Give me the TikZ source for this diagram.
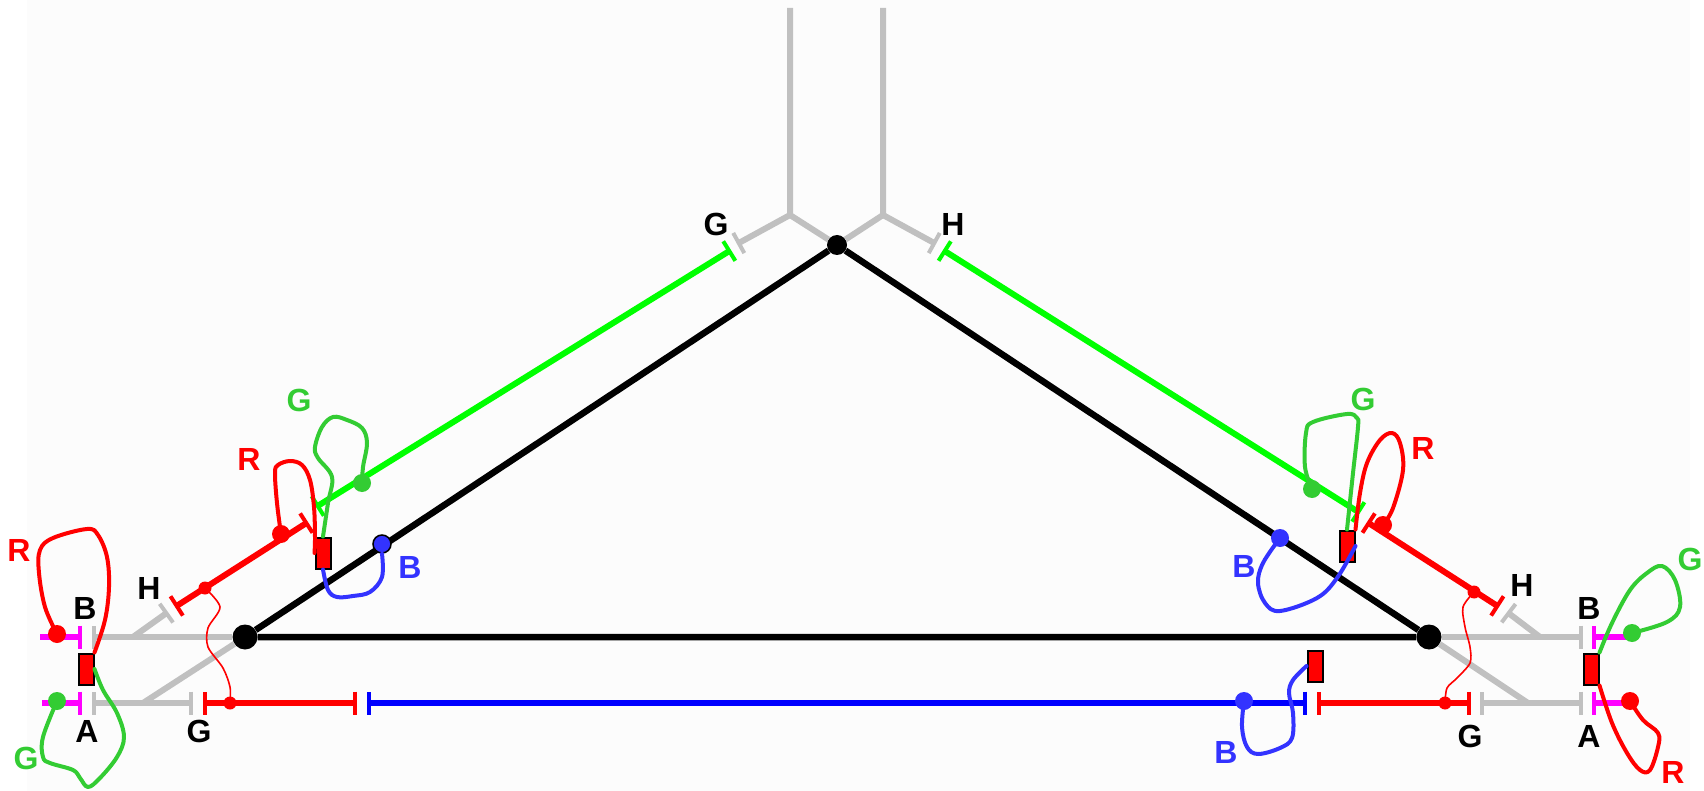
\documentclass[tikz,border=0pt]{standalone}
\usepackage{fontspec}
\setmainfont{Liberation Sans}
\usepackage{xcolor}
\usetikzlibrary{arrows.meta}
\definecolor{railgray}{HTML}{C0C0C0}
\definecolor{railmagenta}{HTML}{FF00FF}
\definecolor{railred}{HTML}{FF0000}
\definecolor{railgreen}{HTML}{00FF00}
\definecolor{railblue}{HTML}{0000FF}
\definecolor{loopgreen}{HTML}{33CC33}
\definecolor{loopblue}{HTML}{3333FF}
\definecolor{paper}{HTML}{FCFCFC}

\begin{document}
\begin{tikzpicture}[
  x=1pt, y=-1pt,
  font=\fontsize{32}{32}\selectfont\bfseries,
  rail/.style={line width=6pt, line cap=butt},
  teeA/.style={{Bar[width=23pt,line width=4pt]}-},
  teeB/.style={-{Bar[width=23pt,line width=4pt]}},
  teeAB/.style={{Bar[width=23pt,line width=4pt]}-{Bar[width=23pt,line width=4pt]}},
  vertex/.style={circle, fill=black, inner sep=0pt, minimum size=#1},
  dot/.style={circle, fill=#1, inner sep=0pt, minimum size=18pt},
  smalldot/.style={circle, fill=railred, inner sep=0pt, minimum size=13pt},
  relay/.style={draw=black, fill=railred, line width=2pt, inner sep=0pt, minimum width=15pt, minimum height=31pt},
  wire/.style={line width=4pt, line join=round, line cap=round},
  thinwire/.style={railred, line width=1.6pt, line join=round},
  lab/.style={inner sep=0pt}]
\useasboundingbox (0,0) rectangle (1704,791);
\fill[paper] (27,0) rectangle (1690,791);
% ---- vertices of the triangle
\node[vertex=25pt] (vL) at (245,637) {};
\node[vertex=20pt] (vT) at (837,245) {};
\node[vertex=25pt] (vR) at (1429,637) {};
% ---- end points of the rails
\coordinate (upL) at (790,8); \coordinate (upR) at (883,8);
\coordinate (forkL) at (790,215); \coordinate (forkR) at (883,215);
\coordinate (grayGt) at (737,244); \coordinate (grayHt) at (936,244);
\coordinate (grnGt) at (731,250); \coordinate (grnHt) at (943,250);
\coordinate (grnLe) at (316,507); \coordinate (grnRe) at (1360,513);
\coordinate (redLa) at (308,522); \coordinate (redLb) at (175,607);
\coordinate (redRa) at (1367,522); \coordinate (redRb) at (1499,607);
\coordinate (grayLh) at (168,612); \coordinate (grayRh) at (1507,612);
\coordinate (joinLb) at (133,637); \coordinate (joinLa) at (143,703);
\coordinate (joinRb) at (1540,637); \coordinate (joinRa) at (1528,703);
\coordinate (teeBLg) at (92,637); \coordinate (teeBLm) at (82,637); \coordinate (endBL) at (40,637);
\coordinate (teeALg) at (92,703); \coordinate (teeALm) at (82,703); \coordinate (endAL) at (42,703);
\coordinate (teeGLg) at (193,703); \coordinate (teeGLr) at (203,703);
\coordinate (teeMr) at (357,703); \coordinate (teeMb) at (367,703);
\coordinate (teeNb) at (1307,703); \coordinate (teeNr) at (1317,703);
\coordinate (teeGRr) at (1471,703); \coordinate (teeGRg) at (1480,703);
\coordinate (teeARg) at (1583,703); \coordinate (teeARm) at (1592,703); \coordinate (endAR) at (1630,703);
\coordinate (teeBRg) at (1583,637); \coordinate (teeBRm) at (1592,637); \coordinate (endBR) at (1632,637);
% ---- gray rails
\draw[rail, railgray] (upL) -- (forkL) -- (vT);
\draw[rail, railgray] (upR) -- (forkR) -- (vT);
\draw[rail, railgray, teeB] (forkL) -- (grayGt);
\draw[rail, railgray, teeB] (forkR) -- (grayHt);
\draw[rail, railgray, teeA] (teeBLg) -- (vL);
\draw[rail, railgray, teeAB] (teeALg) -- (teeGLg);
\draw[rail, railgray, teeA] (grayLh) -- (joinLb);
\draw[rail, railgray] (joinLa) -- (vL);
\draw[rail, railgray, teeB] (vR) -- (teeBRg);
\draw[rail, railgray, teeAB] (teeGRg) -- (teeARg);
\draw[rail, railgray, teeA] (grayRh) -- (joinRb);
\draw[rail, railgray] (joinRa) -- (vR);
% ---- coloured rails
\draw[rail, railgreen, teeAB] (grnGt) -- (grnLe);
\draw[rail, railgreen, teeAB] (grnHt) -- (grnRe);
\draw[rail, railred, teeAB] (redLa) -- (redLb);
\draw[rail, railred, teeAB] (redRa) -- (redRb);
\draw[rail, railmagenta, teeB] (endBL) -- (teeBLm);
\draw[rail, railmagenta, teeB] (endAL) -- (teeALm);
\draw[rail, railmagenta, teeA] (teeBRm) -- (endBR);
\draw[rail, railmagenta, teeA] (teeARm) -- (endAR);
\draw[rail, railred, teeAB] (teeGLr) -- (teeMr);
\draw[rail, railblue, teeAB] (teeMb) -- (teeNb);
\draw[rail, railred, teeAB] (teeNr) -- (teeGRr);
% ---- triangle
\draw[line width=6.5pt] (vL) -- (vT) -- (vR) -- (vL);
% ---- relays
\node[relay] (relA) at (86,669) {};
\node[relay] (relB) at (323,553) {};
\node[relay] (relC) at (1347,546) {};
\node[relay] (relD) at (1315,666) {};
\node[relay] (relE) at (1591,669) {};
% ---- contacts
\node[dot=railred] (cBL) at (57,634) {};
\node[dot=loopgreen] (cAL) at (57,701) {};
\node[dot=railred] (cRL) at (281,534) {};
\node[dot=loopgreen] (cGL) at (362,483) {};
\node[dot=loopgreen] (cGR) at (1312,489) {};
\node[dot=railred] (cRR) at (1383,525) {};
\node[dot=loopgreen] (cBR) at (1632,633) {};
\node[dot=railred] (cAR) at (1630,701) {};
\node[dot=loopblue] (cMb) at (1244,701) {};
\node[dot=loopblue, draw=black, line width=1.5pt] (cBb) at (382,544) {};
\node[dot=loopblue] (cBc) at (1280,538) {};
\node[smalldot] (sHL) at (205,588) {};
\node[smalldot] (sGL) at (230,703) {};
\node[smalldot] (sHR) at (1474,592) {};
\node[smalldot] (sGR) at (1445,703) {};
% ---- loops
\draw[wire, railred] plot[smooth, tension=.6] coordinates {(cBL.center) (45,607) (39,573) (40,550) (53,538) (87,529) (98,535) (107,557) (109,587) (105,620) (relA.north east)};
\draw[wire, loopgreen] plot[smooth, tension=.6] coordinates {(cAL.center) (43,737) (43,757) (50,763) (73,770) (80,778) (88,787) (100,778) (117,757) (124,737) (117,713) (103,690) (relA.east)};
\draw[wire, railred] plot[smooth, tension=.6] coordinates {(cRL.center) (277,503) (275,473) (278,465) (290,461) (302,465) (310,480) (314,507) (315,537) (relB.west)};
\draw[wire, loopgreen] plot[smooth, tension=.6] coordinates {(cGL.center) (363,467) (367,443) (362,428) (347,420) (333,417) (322,427) (315,447) (318,458) (332,477) (328,503) (relB.north)};
\draw[wire, loopblue] plot[smooth, tension=.6] coordinates {(cBb.south) (382,577) (370,592) (353,596) (337,597) (328,590) (relB.south)};
\draw[wire, loopgreen] plot[smooth, tension=.6] coordinates {(cGR.center) (1305,467) (1306,433) (1313,422) (1347,414) (1357,418) (1358,427) (1353,473) (relC.north)};
\draw[wire, railred] plot[smooth, tension=.6] coordinates {(cRR.center) (1393,508) (1403,470) (1400,443) (1392,433) (1380,440) (1367,463) (1360,493) (relC.north east)};
\draw[wire, loopblue] plot[smooth, tension=.6] coordinates {(cBc.center) (1263,563) (1258,583) (1265,603) (1280,611) (1317,598) (1337,578) (relC.east)};
\draw[wire, loopblue] plot[smooth, tension=.6] coordinates {(cMb.center) (1242,727) (1247,747) (1258,754) (1280,748) (1292,738) (1293,713) (1289,693) (1293,680) (relD.west)};
\draw[wire, loopgreen] plot[smooth, tension=.6] coordinates {(cBR.center) (1667,622) (1680,607) (1675,580) (1662,566) (1647,573) (1630,590) (1612,623) (relE.north east)};
\draw[wire, railred] plot[smooth, tension=.6] coordinates {(cAR.center) (1643,720) (1658,733) (1658,747) (1650,770) (1640,770) (1627,753) (1612,723) (relE.south east)};
\draw[thinwire] plot[smooth, tension=.5] coordinates {(sHL.center) (220,607) (208,628) (208,647) (223,668) (230,687) (sGL.center)};
\draw[thinwire] plot[smooth, tension=.5] coordinates {(sHR.center) (1463,607) (1465,627) (1470,647) (1470,663) (1457,678) (1447,688) (sGR.center)};
% ---- labels
\node[lab] (labBL) at (85,608) {B};
\node[lab] (labAL) at (87,731) {A};
\node[lab] (labGL) at (199,731) {G};
\node[lab] (labHL) at (149,588) {H};
\node[lab] (labGT) at (716,224) {G};
\node[lab] (labHT) at (953,224) {H};
\node[lab] (labHR) at (1522,585) {H};
\node[lab] (labBR) at (1589,608) {B};
\node[lab] (labGB) at (1470,736) {G};
\node[lab] (labAR) at (1589,736) {A};
\node[lab, railred] (labR1) at (19,550) {R};
\node[lab, railred] (labR2) at (249,459) {R};
\node[lab, railred] (labR3) at (1423,448) {R};
\node[lab, railred] (labR4) at (1673,772) {R};
\node[lab, loopgreen] (labG1) at (26,758) {G};
\node[lab, loopgreen] (labG2) at (299,400) {G};
\node[lab, loopgreen] (labG3) at (1363,399) {G};
\node[lab, loopgreen] (labG4) at (1690,559) {G};
\node[lab, loopblue] (labB1) at (410,567) {B};
\node[lab, loopblue] (labB2) at (1244,566) {B};
\node[lab, loopblue] (labB3) at (1226,752) {B};
\end{tikzpicture}
\end{document}
